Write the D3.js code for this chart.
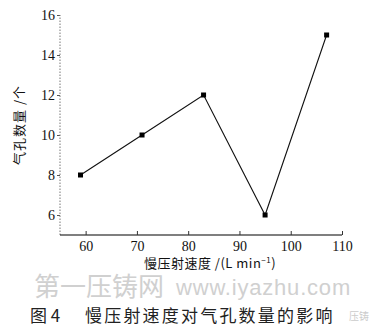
<!DOCTYPE html>
<html lang="en">
<head>
<meta charset="utf-8">
<title>慢压射速度对气孔数量的影响</title>
<script src="https://d3js.org/d3.v7.min.js" charset="utf-8"></script>
<style>
  body { margin: 0; background: #fff; }
  .cjk { font-family: "Noto Sans CJK SC", sans-serif; }
  .num { font-family: "Liberation Serif", "DejaVu Serif", serif; }
</style>
</head>
<body>
<script>
// data
var speeds = [59, 71, 83, 95, 107];
var pores = [8, 10, 12, 6, 15];
var xTicks = [60, 70, 80, 90, 100, 110];
var yTicks = [6, 8, 10, 12, 14, 16];

var width = 375, height = 331;

var svg = d3.select("body").append("svg")
    .attr("width", width)
    .attr("height", height);

var x = d3.scaleLinear().domain([55, 110]).range([60, 342]);
var y = d3.scaleLinear().domain([5, 16]).range([235, 15]);

// y axis (dotted line, short outward ticks)
var ya = svg.append("g")
    .attr("transform", "translate(60,0)")
    .call(d3.axisLeft(y).tickValues(yTicks).tickSize(3).tickPadding(2));
ya.attr("font-family", null).attr("font-size", 14);
ya.select(".domain").remove();
ya.selectAll(".tick line").attr("stroke", "#555");
ya.selectAll(".tick text").attr("class", "num").attr("fill", "#111");
svg.append("line")
    .attr("x1", 60).attr("x2", 60)
    .attr("y1", y(5)).attr("y2", y(16))
    .attr("stroke", "#777")
    .attr("stroke-dasharray", "1.5,1.5");

// x axis, ticks pointing inward
var xa = svg.append("g")
    .attr("transform", "translate(0," + y(5) + ")")
    .call(d3.axisBottom(x).tickValues(xTicks).tickSizeInner(-4).tickSizeOuter(0).tickPadding(6));
xa.attr("font-family", null).attr("font-size", 14);
xa.select(".domain").attr("stroke", "#000").attr("stroke-width", 1.2)
    .attr("d", "M60,0H" + x(110));
xa.selectAll(".tick line").attr("stroke", "#333");
xa.selectAll(".tick text").attr("class", "num").attr("fill", "#111");

// line + markers
var line = d3.line()
    .x(function(d, i) { return x(speeds[i]); })
    .y(function(d) { return y(d); });

svg.append("path")
    .datum(pores)
    .attr("fill", "none")
    .attr("stroke", "#111")
    .attr("stroke-width", 1.1)
    .attr("d", line);

svg.selectAll("rect.pt")
    .data(pores)
    .enter().append("rect")
    .attr("class", "pt")
    .attr("x", function(d, i) { return x(speeds[i]) - 2.5; })
    .attr("y", function(d) { return y(d) - 2.5; })
    .attr("width", 5)
    .attr("height", 5)
    .attr("fill", "#000");

// axis titles
svg.append("text")
    .attr("class", "cjk")
    .attr("transform", "translate(24,125) rotate(-90)")
    .attr("text-anchor", "middle")
    .attr("font-size", 13)
    .attr("letter-spacing", 1)
    .attr("fill", "#111")
    .text("气孔数量 /个");

var xl = svg.append("text")
    .attr("class", "cjk")
    .attr("x", 210).attr("y", 268)
    .attr("text-anchor", "middle")
    .attr("font-size", 13)
    .attr("letter-spacing", 0.5)
    .attr("fill", "#111");
xl.append("tspan").text("慢压射速度 /(L min");
xl.append("tspan").attr("dy", -5).attr("font-size", 8).text("−1");
xl.append("tspan").attr("dy", 5).text(")");

// watermark
svg.append("text")
    .attr("class", "cjk")
    .attr("x", 34).attr("y", 296)
    .attr("font-size", 26)
    .attr("fill", "#d0d0d0")
    .text("第一压铸网");
svg.append("text")
    .attr("x", 176).attr("y", 295)
    .attr("font-family", "Liberation Sans, Arial, sans-serif")
    .attr("font-size", 22)
    .attr("letter-spacing", 0.8)
    .attr("fill", "#d0d0d0")
    .text("www.iyazhu.com");

// caption
svg.append("text")
    .attr("class", "cjk")
    .attr("x", 30).attr("y", 322)
    .attr("font-size", 17)
    .attr("fill", "#222")
    .text("图 4");
svg.append("text")
    .attr("class", "cjk")
    .attr("x", 85).attr("y", 322)
    .attr("font-size", 17)
    .attr("letter-spacing", 2.2)
    .attr("fill", "#222")
    .text("慢压射速度对气孔数量的影响");
svg.append("text")
    .attr("class", "cjk")
    .attr("x", 349).attr("y", 320)
    .attr("font-size", 10)
    .attr("fill", "#ccc")
    .text("压铸");
</script>
</body>
</html>
